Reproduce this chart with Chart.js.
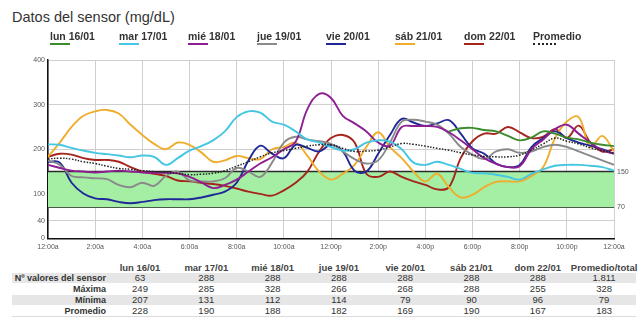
<!DOCTYPE html>
<html><head><meta charset="utf-8">
<script src="https://cdn.jsdelivr.net/npm/chart.js@4"></script>
<style>
html,body{margin:0;padding:0;background:#fff;}
body{width:640px;height:330px;position:relative;overflow:hidden;font-family:"Liberation Sans",Arial,sans-serif;color:#333;}
#title{position:absolute;left:12px;top:9px;font-size:14.5px;color:#333;white-space:nowrap;}
#chartBox{position:absolute;left:0;top:0;width:640px;height:255px;}
.lg{position:absolute;top:30px;font-weight:bold;font-size:10.5px;color:#333;white-space:nowrap;}
.lg .u{position:absolute;left:0;top:12.5px;height:0;}
.cell{position:absolute;white-space:nowrap;font-size:9.5px;color:#333;transform:translateX(-50%);}
.hdr{font-weight:bold;color:#444;}
.rl{position:absolute;white-space:nowrap;font-size:9px;font-weight:bold;color:#333;text-align:right;right:534px;}
.band{position:absolute;left:12px;width:624px;height:10px;background:#e6e6e6;}
.bline{position:absolute;left:12px;width:624px;height:1px;background:#dcdcdc;}
</style>
</head>
<body>
<div id="title">Datos del sensor (mg/dL)</div>
<div id="chartBox"><canvas id="c" width="640" height="255"></canvas></div>
<div id="legend"></div>
<div id="table"></div>
<script>
// ---- data ----
const hours = [0,0.5,1,1.5,2,2.5,3,3.5,4,4.5,5,5.5,6,6.5,7,7.5,8,8.5,9,9.5,10,10.5,11,11.5,12,12.5,13,13.5,14,14.5,15,15.5,16,16.5,17,17.5,18,18.5,19,19.5,20,20.5,21,21.5,22,22.5,23,23.5,24];
const hourTicks = [0,2,4,6,8,10,12,14,16,18,20,22,24];
const tickLabels = ['12:00a','2:00a','4:00a','6:00a','8:00a','10:00a','12:00p','2:00p','4:00p','6:00p','8:00p','10:00p','12:00a'];
const yTicks = [0,40,100,200,300,400];
const targetRange = [70,150];

const seriesNames = ['lun 16/01','mar 17/01','mié 18/01','jue 19/01','vie 20/01','sáb 21/01','dom 22/01','Promedio'];
const seriesColors = ['#3b8c2c','#45c6e2','#8e1f92','#8a8a8a','#1e2896','#efad2e','#a5241c','#222222'];

const lun = [null,null,null,null,null,null,null,null,null,null,null,null,null,null,null,null,null,null,null,null,null,null,null,null,null,null,null,null,null,null,null,null,null,null,240,247,248,243,240,230,220,226,240,235,226,222,215,210,207];
const mar = [211,210,203,197,192,189,186,182,186,183,165,180,197,207,220,240,272,285,282,262,255,240,222,215,205,197,200,215,220,217,200,170,165,172,165,156,147,146,143,138,132,145,155,163,165,165,163,160,152];
const mie = [165,158,152,150,148,150,152,150,148,147,147,146,138,126,113,120,132,150,168,182,200,217,290,324,315,275,258,240,215,208,250,252,252,250,238,220,200,180,167,160,162,200,222,245,255,235,215,198,190];
const jue = [175,165,140,137,135,133,120,115,125,118,140,150,130,128,128,135,158,150,138,170,215,228,222,218,212,195,178,168,175,215,262,266,262,255,235,205,188,178,195,200,192,195,205,210,205,195,185,175,165];
const vie = [172,170,125,101,90,88,82,79,82,86,88,88,88,92,98,105,125,175,208,190,180,210,203,195,210,195,152,150,190,232,268,260,252,258,265,235,202,190,168,160,165,205,225,240,225,215,208,200,190];
const sab = [183,215,250,275,285,288,280,255,232,212,200,215,210,193,172,175,185,180,178,200,205,215,185,150,132,145,165,205,238,205,180,150,128,145,115,92,98,115,127,128,128,140,160,225,262,272,205,230,195];
const dom = [183,190,188,180,176,176,172,160,150,145,140,130,128,125,122,118,112,105,100,96,108,125,150,195,225,232,215,145,138,150,138,128,120,110,115,180,218,235,235,250,238,225,228,245,225,253,215,195,200];
const promedio = [178,180,178,172,168,162,157,155,152,150,148,146,143,144,146,152,162,172,183,192,197,202,207,210,210,202,195,196,198,205,213,211,207,202,198,192,187,184,183,183,187,198,212,225,218,212,203,197,191];

const tableCols = ['lun 16/01','mar 17/01','mié 18/01','jue 19/01','vie 20/01','sáb 21/01','dom 22/01','Promedio/total'];
const rowLabels = ['Nº valores del sensor','Máxima','Mínima','Promedio'];
const nValores = ['63','288','288','288','288','288','288','1.811'];
const maxima = ['249','285','328','266','268','288','255','328'];
const minima = ['207','131','112','114','79','90','96','79'];
const promRow = ['228','190','188','182','169','190','167','183'];

// ---- build ----
const seriesValues = [lun,mar,mie,jue,vie,sab,dom,promedio];
const datasets = seriesValues.map((vals,i)=>({
  label: seriesNames[i],
  data: hours.map((h,k)=>({x:h,y:vals[k]})),
  borderColor: seriesColors[i],
  backgroundColor: seriesColors[i],
  borderWidth: i===7 ? 1.5 : 1.9,
  borderDash: i===7 ? [1.5,1.5] : [],
  pointRadius: 0,
  tension: 0.4,
  spanGaps: false,
  fill: false,
  order: i===7 ? 0 : 1+i
}));
datasets.push({
  label:'_high', data:[{x:0,y:targetRange[1]},{x:24,y:targetRange[1]}],
  borderColor:'#2b2b2b', borderWidth:1.5, pointRadius:0, fill:'+1',
  backgroundColor:'#a4efa4', order:100
});
datasets.push({
  label:'_low', data:[{x:0,y:targetRange[0]},{x:24,y:targetRange[0]}],
  borderColor:'#2b2b2b', borderWidth:1.5, pointRadius:0, fill:false, order:101
});

const tickFont = {family:'"Liberation Sans", Arial, sans-serif', size:7};
new Chart(document.getElementById('c'), {
  type:'line',
  data:{datasets},
  options:{
    responsive:false, animation:false,
    layout:{padding:{top:60,left:0,right:0,bottom:0}},
    plugins:{legend:{display:false}, tooltip:{enabled:false}},
    scales:{
      x:{type:'linear', min:0, max:24,
        afterBuildTicks:(s)=>{s.ticks = hourTicks.map(v=>({value:v}));},
        ticks:{callback:(v)=>tickLabels[hourTicks.indexOf(v)], font:tickFont, color:'#555', padding:4, maxRotation:0, autoSkip:false},
        grid:{color:'#cfcfcf', drawTicks:false},
        border:{color:'#111', width:1.5},
        afterFit:(s)=>{s.height = 16.5;}
      },
      y:{min:0, max:400,
        afterBuildTicks:(s)=>{s.ticks = yTicks.map(v=>({value:v}));},
        ticks:{font:tickFont, color:'#555', padding:3},
        grid:{color:'#cfcfcf', drawTicks:false},
        border:{color:'#111', width:1.5},
        afterFit:(s)=>{s.width = 48;}
      },
      y2:{position:'right', min:0, max:400,
        afterBuildTicks:(s)=>{s.ticks = targetRange.map(v=>({value:v}));},
        ticks:{font:tickFont, color:'#555', padding:3},
        grid:{display:false, drawTicks:false},
        border:{display:false},
        afterFit:(s)=>{s.width = 26;}
      }
    }
  }
});

// legend
const lg = document.getElementById('legend');
seriesNames.forEach((name,i)=>{
  const d = document.createElement('div');
  d.className = 'lg';
  d.style.left = (50 + i*69) + 'px';
  d.textContent = name;
  const u = document.createElement('div');
  u.className = 'u';
  const firstWord = name.split(' ')[0];
  const w = i===7 ? 23 : (firstWord.length*6.6);
  u.style.width = w + 'px';
  u.style.borderTop = i===7 ? '2px dotted '+seriesColors[i] : '2px solid '+seriesColors[i];
  d.appendChild(u);
  lg.appendChild(d);
});

// table
const tb = document.getElementById('table');
const colX = (j)=> 140 + j*66.3;
const rowY = [273, 284, 295, 306];
[0,2].forEach(r=>{
  const b=document.createElement('div'); b.className='band'; b.style.top=rowY[r]+'px'; tb.appendChild(b);
});
const bl=document.createElement('div'); bl.className='bline'; bl.style.top='316px'; tb.appendChild(bl);
tableCols.forEach((h,j)=>{
  const c=document.createElement('div'); c.className='cell hdr'; c.textContent=h;
  c.style.left=colX(j)+'px'; c.style.top='262px'; tb.appendChild(c);
});
const rows=[nValores,maxima,minima,promRow];
rows.forEach((row,r)=>{
  const l=document.createElement('div'); l.className='rl'; l.textContent=rowLabels[r];
  l.style.top=(rowY[r]-0.5)+'px'; tb.appendChild(l);
  row.forEach((v,j)=>{
    const c=document.createElement('div'); c.className='cell'; c.textContent=v;
    c.style.left=colX(j)+'px'; c.style.top=(rowY[r]-1)+'px'; tb.appendChild(c);
  });
});
</script>
</body></html>
